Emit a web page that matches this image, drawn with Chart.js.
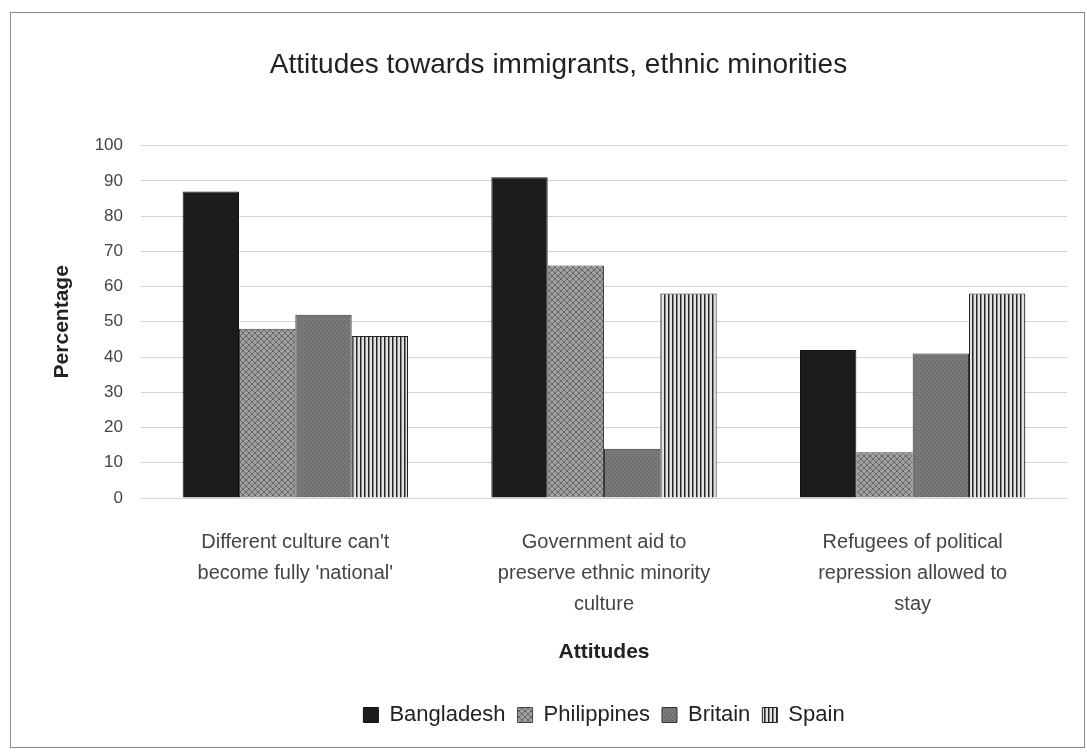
<!DOCTYPE html>
<html>
<head>
<meta charset="utf-8">
<script src="https://cdn.jsdelivr.net/npm/chart.js@4"></script>
<style>
  body { margin: 0; background: #fff; }
  #wrap { width: 1087px; height: 752px; }
</style>
</head>
<body>
<div id="wrap"><canvas id="attitudes" width="1087" height="752"></canvas></div>
<script>
const categories = [
    ["Different culture can't", "become fully 'national'"],
    ["Government aid to", "preserve ethnic minority", "culture"],
    ["Refugees of political", "repression allowed to", "stay"]
];
const bangladesh = [87, 91, 42];
const philippines = [48, 66, 13];
const britain = [52, 14, 41];
const spain = [46, 58, 58];
const yTicks = [0, 10, 20, 30, 40, 50, 60, 70, 80, 90, 100];

// small tiles used as bar fills
function makePattern(size, draw) {
    const c = document.createElement('canvas');
    c.width = size;
    c.height = size;
    draw(c.getContext('2d'), size);
    return c.getContext('2d').createPattern(c, 'repeat');
}

const crossHatch = makePattern(6, (g, s) => {
    g.fillStyle = '#a0a0a0';
    g.fillRect(0, 0, s, s);
    g.strokeStyle = '#666';
    g.lineWidth = 1;
    g.beginPath();
    g.moveTo(0, 0); g.lineTo(s, s);
    g.moveTo(s, 0); g.lineTo(0, s);
    g.stroke();
});

const dotted = makePattern(4, (g, s) => {
    g.fillStyle = '#7a7a7a';
    g.fillRect(0, 0, s, s);
    g.fillStyle = '#555';
    g.fillRect(0, 0, 1, 1);
    g.fillRect(2, 2, 1, 1);
});

const vLines = makePattern(4, (g, s) => {
    g.fillStyle = '#e2e2e2';
    g.fillRect(0, 0, s, s);
    g.fillStyle = '#262626';
    g.fillRect(0, 0, 1.5, s);
});

const frame = {
    id: 'frame',
    beforeDraw(chart) {
        const g = chart.ctx;
        g.save();
        g.fillStyle = '#fff';
        g.fillRect(0, 0, chart.width, chart.height);
        g.strokeStyle = '#8a8a8a';
        g.lineWidth = 1;
        g.strokeRect(10.5, 12.5, 1074, 735);
        g.restore();
    }
};

const ctx = document.getElementById('attitudes');

new Chart(ctx, {
    type: 'bar',
    data: {
        labels: categories,
        datasets: [
            { label: 'Bangladesh', data: bangladesh, backgroundColor: '#1c1c1c', borderColor: '#111', borderWidth: 1 },
            { label: 'Philippines', data: philippines, backgroundColor: crossHatch, borderColor: '#444', borderWidth: 1 },
            { label: 'Britain', data: britain, backgroundColor: dotted, borderColor: '#333', borderWidth: 1 },
            { label: 'Spain', data: spain, backgroundColor: vLines, borderColor: '#222', borderWidth: 1 }
        ]
    },
    options: {
        responsive: false,
        animation: false,
        layout: { padding: { left: 50, right: 20, top: 0, bottom: 16 } },
        datasets: { bar: { categoryPercentage: 0.73, barPercentage: 1 } },
        plugins: {
            title: {
                display: true,
                text: 'Attitudes towards immigrants, ethnic minorities',
                color: '#222',
                font: { family: 'Liberation Sans', size: 28, weight: 'normal' },
                padding: { top: 48, bottom: 64 }
            },
            legend: {
                position: 'bottom',
                fullSize: false,
                labels: {
                    color: '#222',
                    font: { family: 'Liberation Sans', size: 22 },
                    boxWidth: 15,
                    boxHeight: 15,
                    padding: 12
                }
            },
            tooltip: { enabled: false }
        },
        scales: {
            x: {
                afterFit(scale) {
                    scale.height = 194;
                },
                grid: { display: false, drawTicks: false },
                border: { display: false },
                ticks: {
                    color: '#444',
                    font: { family: 'Liberation Sans', size: 20, lineHeight: 1.55 },
                    padding: 29,
                    maxRotation: 0
                },
                title: {
                    display: true,
                    text: 'Attitudes',
                    color: '#222',
                    font: { family: 'Liberation Sans', size: 21, weight: 'bold' },
                    padding: { top: 0, bottom: 27 }
                }
            },
            y: {
                min: 0,
                max: 100,
                afterBuildTicks(scale) {
                    scale.ticks = yTicks.map(v => ({ value: v }));
                },
                afterFit(scale) {
                    scale.width = 91;
                },
                grid: { color: '#d4d4d4', drawTicks: false },
                border: { display: false },
                ticks: {
                    color: '#444',
                    font: { family: 'Liberation Sans', size: 17 },
                    padding: 18
                },
                title: {
                    display: true,
                    text: 'Percentage',
                    color: '#222',
                    font: { family: 'Liberation Sans', size: 21, weight: 'bold' },
                    padding: 0
                }
            }
        }
    },
    plugins: [frame]
});
</script>
</body>
</html>
